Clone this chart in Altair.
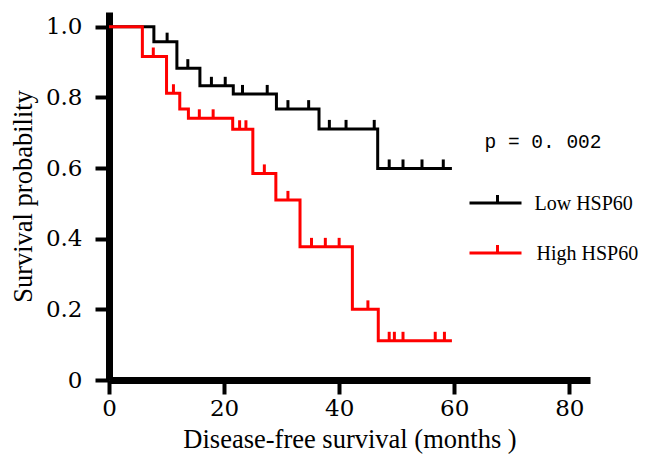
import altair as alt
import pandas as pd

# Kaplan-Meier step curves (months, survival probability)
low_times = [0, 7.8, 11.8, 15.8, 21.6, 29.1, 36.5, 46.7, 59.6]
low_surv = [1.0, 0.958, 0.883, 0.833, 0.810, 0.767, 0.711, 0.599, 0.599]
low_censor = [10.1, 13.7, 17.8, 20.2, 23.2, 27.5, 31.1, 34.7, 38.3, 41.2, 46.1,
              48.7, 51.1, 54.4, 58.1]

high_times = [0, 5.8, 10.0, 12.3, 13.8, 21.5, 25.0, 29.0, 33.2, 42.3, 46.8, 59.6]
high_surv = [1.0, 0.916, 0.812, 0.767, 0.741, 0.710, 0.585, 0.510, 0.377, 0.200,
             0.111, 0.111]
high_censor = [7.7, 11.2, 15.7, 18.1, 22.7, 23.8, 27.0, 31.1, 35.2, 37.6, 40.0,
               45.0, 48.7, 49.6, 51.1, 56.7, 58.3]

groups = ["Low HSP60", "High HSP60"]
colors = ["#000000", "#ff0000"]
p_text = "p = 0. 002"
x_ticks = [0, 20, 40, 60, 80]
y_ticks = [0, 0.2, 0.4, 0.6, 0.8, 1.0]


def level_at(times, surv, t):
    val = surv[0]
    for tt, ss in zip(times, surv):
        if tt <= t:
            val = ss
    return val


curve_rows = []
for g, ts, ss in [(groups[0], low_times, low_surv), (groups[1], high_times, high_surv)]:
    for t, s in zip(ts, ss):
        curve_rows.append({"month": t, "surv": s, "group": g})
curves = pd.DataFrame(curve_rows)

cens_rows = []
for g, cs, ts, ss in [(groups[0], low_censor, low_times, low_surv),
                      (groups[1], high_censor, high_times, high_surv)]:
    for c in cs:
        cens_rows.append({"month": c, "surv": level_at(ts, ss, c), "group": g})
cens = pd.DataFrame(cens_rows)

x_scale = alt.Scale(domain=[0, 83.6], nice=False, zero=False)
y_scale = alt.Scale(domain=[0, 1.042], nice=False)
color_scale = alt.Scale(domain=groups, range=colors)

common_axis = dict(
    grid=False, domainColor="black", domainWidth=7,
    tickColor="black", tickWidth=4, tickSize=14,
    labelFont="DejaVu Serif", labelFontSize=23, labelColor="black",
    titleFont="Liberation Serif", titleFontSize=26.5, titleFontWeight="normal",
    titleColor="black", labelFlush=False,
)
x_axis = alt.Axis(values=x_ticks, title="Disease-free survival (months )",
                  labelPadding=3, titlePadding=6, **common_axis)
y_axis = alt.Axis(values=y_ticks, title="Survival probability",
                  labelExpr="datum.value == 0 ? '0' : format(datum.value, '.1f')",
                  labelPadding=13, titlePadding=8, **common_axis)

lines = alt.Chart(curves).mark_line(interpolate="step-after", strokeWidth=3).encode(
    x=alt.X("month:Q", scale=x_scale, axis=x_axis),
    y=alt.Y("surv:Q", scale=y_scale, axis=y_axis),
    color=alt.Color("group:N", scale=color_scale, legend=None),
)

ticks = alt.Chart(cens).mark_tick(orient="vertical", thickness=3, size=9, yOffset=-4.5,
                                  opacity=1).encode(
    x=alt.X("month:Q", scale=x_scale, axis=x_axis),
    y=alt.Y("surv:Q", scale=y_scale, axis=y_axis),
    color=alt.Color("group:N", scale=color_scale, legend=None),
)

layers = [lines, ticks]

# p-value annotation
layers.append(
    alt.Chart(pd.DataFrame({"t": [p_text]})).mark_text(
        align="left", baseline="middle", font="Liberation Mono", fontSize=19.5, color="black"
    ).encode(x=alt.value(375.5), y=alt.value(130), text="t:N")
)

# custom legend
leg_y = [191, 241]
for i, (g, c) in enumerate(zip(groups, colors)):
    df = pd.DataFrame({"label": [g]})
    layers.append(alt.Chart(df).mark_rule(color=c, strokeWidth=3).encode(
        x=alt.value(360.5), x2=alt.value(412.5), y=alt.value(leg_y[i])))
    layers.append(alt.Chart(df).mark_rule(color=c, strokeWidth=3).encode(
        x=alt.value(388.5), y=alt.value(leg_y[i] - 8), y2=alt.value(leg_y[i])))
    layers.append(alt.Chart(df).mark_text(
        align="left", baseline="middle", font="Liberation Serif", fontSize=20, color="black"
    ).encode(x=alt.value(425.5 + i * 2), y=alt.value(leg_y[i] + 1), text="label:N"))

chart = alt.layer(*layers).properties(
    width=481, height=368,
    padding={"left": 101, "top": 4, "right": 49, "bottom": 76},
    autosize="none",
).configure_view(stroke=None).configure_axis(**common_axis)

chart.save("out.html", embed_options={"renderer": "svg", "actions": False})
